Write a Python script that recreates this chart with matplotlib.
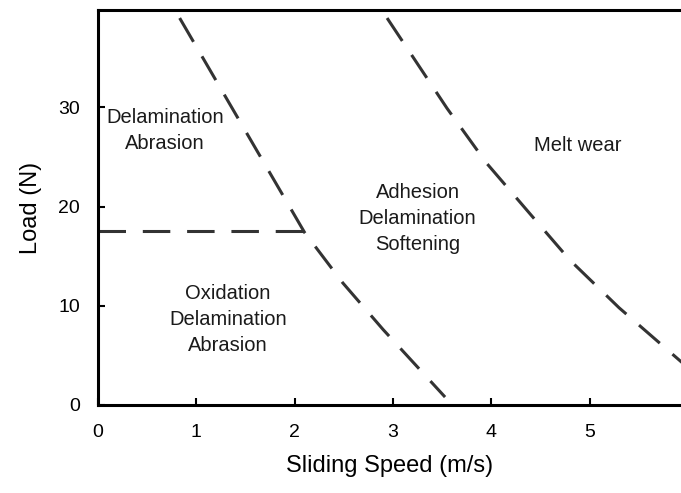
import matplotlib
matplotlib.use("Agg")
import matplotlib.pyplot as plt

plt.rcParams["font.family"] = ["Liberation Sans", "DejaVu Sans"]

# boundary between low-speed regimes and adhesion regime (kinked at the transition load)
left_x = [0.83, 2.10, 2.49, 2.90, 3.53]
left_y = [39.0, 17.4, 12.3, 7.6, 0.8]

# transition load between the two low-speed regimes
trans_x = [0.0, 2.10]
trans_y = [17.5, 17.5]

# boundary to melt wear
melt_x = [2.94, 3.55, 3.95, 4.40, 4.80, 5.30, 5.95]
melt_y = [39.0, 29.9, 24.4, 19.2, 14.6, 9.8, 4.2]

region_labels = ["Delamination\nAbrasion",
                 "Oxidation\nDelamination\nAbrasion",
                 "Adhesion\nDelamination\nSoftening",
                 "Melt wear"]
label_x = [0.68, 1.32, 3.25, 4.88]
label_y = [27.7, 8.6, 18.8, 26.2]

x_ticks = [0, 1, 2, 3, 4, 5]
y_ticks = [0, 10, 20, 30]

fig = plt.figure(figsize=(6.81, 4.93), dpi=100)
ax = fig.add_axes([0.144, 0.1785, 0.856, 0.801])

line_style = dict(color="#333333", lw=2.2, dashes=(9, 5.5))
ax.plot(left_x, left_y, **line_style)
ax.plot(trans_x, trans_y, **line_style)
ax.plot(melt_x, melt_y, **line_style)

for txt, x, y in zip(region_labels, label_x, label_y):
    ax.text(x, y, txt, ha="center", va="center", fontsize=14.5,
            color="#1a1a1a", linespacing=1.45)

ax.set_xlim(0, 5.93)
ax.set_ylim(0, 39.8)
ax.set_xticks(x_ticks)
ax.set_yticks(y_ticks)
ax.tick_params(direction="in", length=5, width=1.5, labelsize=14)
ax.tick_params(axis="x", pad=14)
ax.tick_params(axis="y", pad=13)
ax.spines["right"].set_visible(False)
for side in ["left", "bottom", "top"]:
    ax.spines[side].set_linewidth(2.2)

ax.set_xlabel("Sliding Speed (m/s)", fontsize=17, labelpad=10)
ax.set_ylabel("Load (N)", fontsize=17, labelpad=12)

fig.savefig("out.png", dpi=100)
